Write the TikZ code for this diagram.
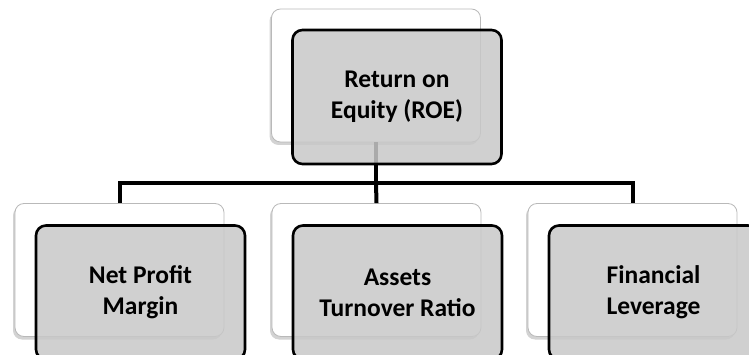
\documentclass[tikz,border=0pt]{standalone}
\usepackage{fontspec}
\setmainfont{Carlito}
\usepackage{xcolor}
\usepackage{tikz}
\usetikzlibrary{shadows,calc}
\definecolor{boxgray}{RGB}{200,200,200}
\definecolor{edgegray}{RGB}{185,185,185}

\tikzset{
    backbox/.style={draw=edgegray, fill=white, line width=0.8pt, rounded corners=9pt,
        minimum width=209pt, minimum height=133pt,
        drop shadow={shadow xshift=-2pt, shadow yshift=-3pt, opacity=0.35}},
    frontbox/.style={draw=black, line width=2.6pt, fill=boxgray, fill opacity=0.85, text opacity=1,
        rounded corners=10pt, minimum width=209pt, minimum height=134pt, align=center,
        font=\bfseries\fontsize{25.5}{31}\selectfont},
    link/.style={line width=4pt}
}

\begin{document}
\begin{tikzpicture}[x=1pt,y=-1pt]
    \useasboundingbox (0,0) rectangle (749,355);
    \clip (0,0) rectangle (749,355);

    % back cards
    \node[backbox] (roeb) at (376,75.5) {};
    \node[backbox] (npmb) at (119.5,270) {};
    \node[backbox] (atrb) at (376.5,270) {};
    \node[backbox] (flb)  at (632.5,270) {};

    % tree connectors
    \coordinate (hub) at (376,183);
    \draw[link] (roeb.south) -- (hub);
    \draw[link] (npmb.north) |- (hub) -| (flb.north);
    \draw[link] (hub) -- (atrb.north);

    % front cards
    \node[frontbox] (roe) at ($(roeb)+(21,21.5)$) {Return on\\Equity (ROE)};
    \node[frontbox] (npm) at ($(npmb)+(21,22.5)$) {Net Profit\\Margin};
    \node[frontbox] (atr) at ($(atrb)+(21,22.5)$) {Assets\\Turnover Ratio};
    \node[frontbox] (fl)  at ($(flb)+(21,22.5)$) {Financial\\Leverage};
\end{tikzpicture}
\end{document}
